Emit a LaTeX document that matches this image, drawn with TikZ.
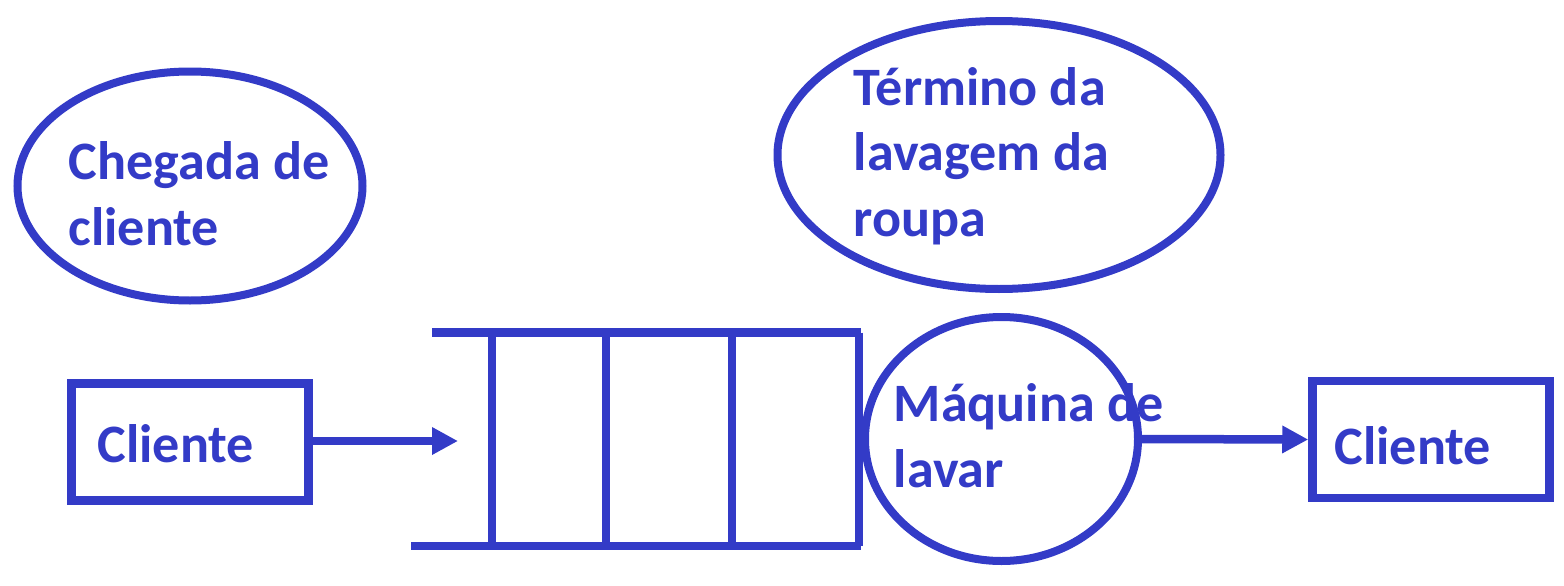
\documentclass[tikz,border=0pt]{standalone}
\usepackage{fontspec}
\setmainfont{Carlito}
\usepackage{tikz}
\usetikzlibrary{arrows.meta,positioning,shapes.geometric}

\definecolor{azul}{RGB}{51,59,199}

\begin{document}
\begin{tikzpicture}[
    x=1cm, y=1cm,
    font=\bfseries\fontsize{15.4}{18.6}\selectfont,
    evento/.style={draw=azul, ellipse, line width=0.08cm, inner sep=0pt},
    entidade/.style={draw=azul, rectangle, line width=0.085cm, inner sep=0pt,
                     minimum width=2.37cm, minimum height=1.17cm},
    rotulo/.style={text=azul, align=left, anchor=base west, inner sep=0pt},
    fila/.style={draw=azul, line width=0.085cm},
    seta/.style={-{Triangle[length=2.6mm, width=2.6mm]}, draw=azul, line width=0.085cm}
]
\useasboundingbox (0,0) rectangle (15.64,-5.86);

% Eventos: chegada e termino da lavagem
\node[evento, minimum width=3.45cm, minimum height=2.29cm] (chegada) at (1.90,-1.86) {};
\node[rotulo] (chegadatxt) at (0.68,-2.45) {Chegada de\\cliente};

\node[evento, minimum width=4.43cm, minimum height=2.68cm] (termino) at (9.99,-1.55) {};
\node[rotulo] (terminotxt) at (8.53,-2.36) {Término da\\lavagem da\\roupa};

% Entrada do cliente
\node[entidade] (cliente1) at (1.90,-4.42) {};
\node[rotulo] (cliente1txt) at (0.97,-4.62) {Cliente};
\coordinate (fila-in) at (4.58,-4.41);
\draw[seta] (cliente1.east |- fila-in) -- (fila-in);

% Fila de espera
\draw[fila] (4.32,-3.325) -- (8.61,-3.325);
\draw[fila] (4.11,-5.46) -- (8.61,-5.46);
\foreach \x in {4.92,6.06,7.32,8.59}
    \draw[fila] (\x,-3.325) -- (\x,-5.46);

% Servidor e saida
\node[evento, minimum width=2.73cm, minimum height=2.44cm] (maquina) at (10.015,-4.39) {};
\node[rotulo] (maquinatxt) at (8.93,-4.87) {Máquina de\\lavar};

\node[entidade] (cliente2) at (14.31,-4.395) {};
\node[rotulo] (cliente2txt) at (13.34,-4.64) {Cliente};
\draw[seta] (maquina.east) -- (cliente2.west);

\end{tikzpicture}
\end{document}
